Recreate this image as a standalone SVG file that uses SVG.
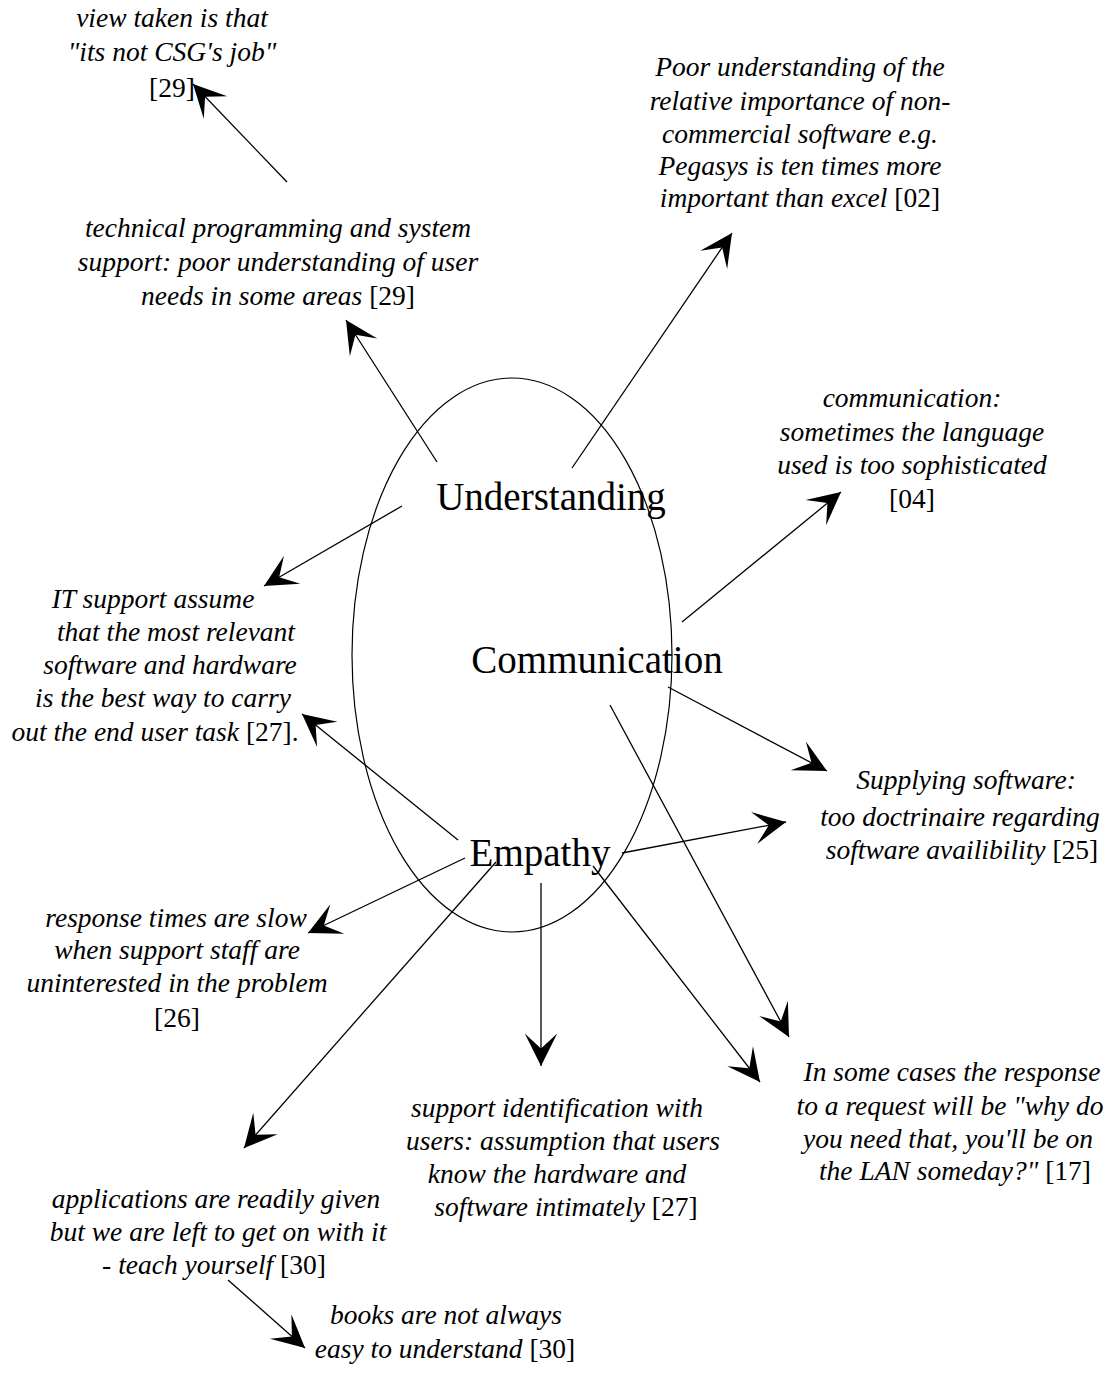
<svg xmlns="http://www.w3.org/2000/svg" width="1115" height="1393" viewBox="0 0 1115 1393">
  <style>
    .note { font-family: "Liberation Serif", "Times New Roman", serif; font-size: 27.5px; font-style: italic; fill: #000; text-anchor: middle; }
    .up { font-style: normal; }
    .hub { font-family: "Liberation Serif", "Times New Roman", serif; font-size: 39px; fill: #000; text-anchor: middle; }
    .conn line { stroke: #000; stroke-width: 1.3; marker-end: url(#head); }
  </style>
  <defs>
    <marker id="head" markerUnits="userSpaceOnUse" markerWidth="40" markerHeight="40" refX="0" refY="0" viewBox="-30 -16 32 32" orient="auto">
      <path d="M0,0 L-26,-13 L-14,0 L-26,13 Z" fill="#000"/>
    </marker>
  </defs>
  <rect width="1115" height="1393" fill="#fff"/>

  <!-- central oval -->
  <ellipse id="oval" cx="512" cy="655" rx="160" ry="277" fill="none" stroke="#000" stroke-width="1.2"/>

  <!-- connectors -->
  <g id="connectors" class="conn">
    <line x1="287" y1="182" x2="193" y2="84"/>
    <line x1="437" y1="462" x2="346" y2="320"/>
    <line x1="572" y1="468" x2="732" y2="233"/>
    <line x1="682" y1="622" x2="841" y2="492"/>
    <line x1="402" y1="506" x2="264" y2="586"/>
    <line x1="458" y1="840" x2="302" y2="714"/>
    <line x1="668" y1="687" x2="827" y2="771"/>
    <line x1="622" y1="853" x2="786" y2="822"/>
    <line x1="465" y1="858" x2="308" y2="933"/>
    <line x1="541" y1="883" x2="541" y2="1066"/>
    <line x1="610" y1="705" x2="789" y2="1037"/>
    <line x1="593" y1="866" x2="760" y2="1082"/>
    <line x1="496" y1="862" x2="244" y2="1148"/>
    <line x1="228" y1="1280" x2="305" y2="1348"/>
  </g>

  <!-- hub labels -->
  <g id="understanding"><text class="hub" x="551" y="510">Understanding</text></g>
  <g id="communication"><text class="hub" x="597" y="673">Communication</text></g>
  <g id="empathy"><text class="hub" x="540" y="866">Empathy</text></g>

  <!-- notes -->
  <g id="not-csg-job">
    <text class="note" x="172" y="27">view taken is that</text>
    <text class="note" x="172" y="61">"its not CSG's job"</text>
    <text class="note" x="172" y="97"><tspan class="up">[29]</tspan></text>
  </g>

  <g id="non-commercial">
    <text class="note" x="800" y="76">Poor understanding of the</text>
    <text class="note" x="800" y="110">relative importance of non-</text>
    <text class="note" x="800" y="143">commercial software e.g.</text>
    <text class="note" x="800" y="175">Pegasys is ten times more</text>
    <text class="note" x="800" y="207">important than excel  <tspan class="up">[02]</tspan></text>
  </g>

  <g id="technical-support">
    <text class="note" x="278" y="237">technical programming and system</text>
    <text class="note" x="278" y="271">support: poor understanding of user</text>
    <text class="note" x="278" y="305">needs in some areas <tspan class="up">[29]</tspan></text>
  </g>

  <g id="language">
    <text class="note" x="912" y="407">communication:</text>
    <text class="note" x="912" y="441">sometimes the language</text>
    <text class="note" x="912" y="474">used is too sophisticated</text>
    <text class="note" x="912" y="508"><tspan class="up">[04]</tspan></text>
  </g>

  <g id="it-assume">
    <text class="note" x="153" y="608">IT support assume</text>
    <text class="note" x="176" y="641">that the most relevant</text>
    <text class="note" x="170" y="674">software and hardware</text>
    <text class="note" x="163" y="707">is the best way to carry</text>
    <text class="note" x="155" y="741">out the end user task <tspan class="up">[27].</tspan></text>
  </g>

  <g id="supplying-software">
    <text class="note" x="966" y="789">Supplying software:</text>
    <text class="note" x="960" y="826">too doctrinaire regarding</text>
    <text class="note" x="962" y="859">software availibility <tspan class="up">[25]</tspan></text>
  </g>

  <g id="response-times">
    <text class="note" x="176" y="927">response times are slow</text>
    <text class="note" x="177" y="959">when support staff are</text>
    <text class="note" x="177" y="992">uninterested in the problem</text>
    <text class="note" x="177" y="1027"><tspan class="up">[26]</tspan></text>
  </g>

  <g id="identification">
    <text class="note" x="557" y="1117">support identification with</text>
    <text class="note" x="563" y="1150">users: assumption that users</text>
    <text class="note" x="557" y="1183">know the hardware and</text>
    <text class="note" x="566" y="1216">software intimately <tspan class="up">[27]</tspan></text>
  </g>

  <g id="why-need">
    <text class="note" x="952" y="1081">In some cases the response</text>
    <text class="note" x="950" y="1115">to a request will be "why do</text>
    <text class="note" x="948" y="1148">you need that, you'll be on</text>
    <text class="note" x="955" y="1180">the LAN someday?" <tspan class="up">[17]</tspan></text>
  </g>

  <g id="teach-yourself">
    <text class="note" x="216" y="1208">applications are readily given</text>
    <text class="note" x="218" y="1241">but we are left to get on with it</text>
    <text class="note" x="214" y="1274">- teach yourself <tspan class="up">[30]</tspan></text>
  </g>

  <g id="books">
    <text class="note" x="446" y="1324">books are not always</text>
    <text class="note" x="445" y="1358">easy to understand <tspan class="up">[30]</tspan></text>
  </g>
</svg>
